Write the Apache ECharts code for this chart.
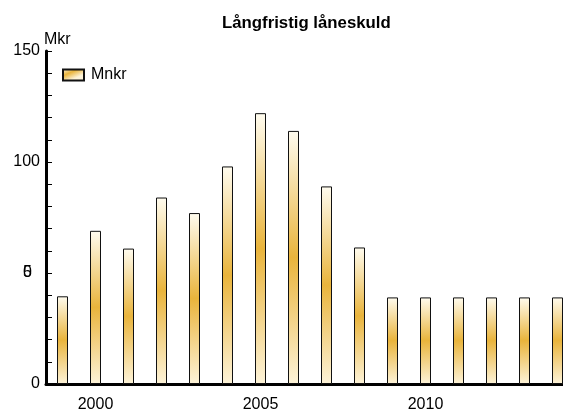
<!DOCTYPE html>
<html><head><meta charset="utf-8">
<script src="https://cdn.jsdelivr.net/npm/echarts@6/dist/echarts.min.js"></script>
<style>html,body{margin:0;padding:0;background:#fff}#c{width:563px;height:414px}</style>
</head><body><div id="c"></div>
<script>
var years = ['1999','2000','2001','2002','2003','2004','2005','2006','2007','2008','2009','2010','2011','2012','2013','2014'];
var mnkr = [39.5, 69, 61, 84, 77, 98, 122, 114, 89, 61.5, 39, 39, 39, 39, 39, 39];
var yTicks = [0, 50, 100, 150];

var chart = echarts.init(document.getElementById('c'));
var font = 'Liberation Sans, Arial, sans-serif';
var fill = new echarts.graphic.LinearGradient(0, 0, 0.25, 1, [
  {offset: 0, color: '#fffcf0'},
  {offset: 0.5, color: '#e9b43c'},
  {offset: 1, color: '#fdf3d8'}
]);
function hiddenAxis(txt){
  return {type:'value', min:0, max:150, interval:50, position:'left',
    axisLine:{show:false}, axisTick:{show:false}, splitLine:{show:false},
    axisLabel:{margin:14, color:'#000', fontSize:16, fontFamily:font, padding:[6,0,0,0],
      formatter:function(v){return v===50?txt:'';}}};
}
chart.setOption({
  animation:false,
  backgroundColor:'#fff',
  title:{text:'Långfristig låneskuld', left:217, top:10,
    textStyle:{fontSize:16.8, fontWeight:'bold', color:'#000', fontFamily:font}},
  legend:{left:57, top:62, itemWidth:21, itemHeight:11, icon:'rect', itemGap:6,
    textStyle:{fontSize:16, color:'#000', fontFamily:font, padding:[0,0,0,2]},
    data:['Mnkr']},
  grid:{left:46, width:528, top:51, bottom:30, containLabel:false, outerBoundsMode:'none'},
  xAxis:{type:'category', data:years,
    axisLine:{lineStyle:{color:'#000', width:3}},
    axisTick:{show:false},
    axisLabel:{color:'#000', fontSize:16, fontFamily:font, margin:13,
      interval:function(i){return (i-1)%5===0;}}},
  yAxis:[{type:'value', min:0, max:150, interval:10, name:'Mkr', nameLocation:'end', nameGap:11,
    nameMoveOverlap:false,
    nameTextStyle:{align:'left', verticalAlign:'middle', color:'#000', fontSize:16, fontFamily:font, padding:[0,0,0,-2]},
    axisLine:{show:true, lineStyle:{color:'#000', width:3}},
    axisTick:{show:true, inside:true, length:6, lineStyle:{color:'#000', width:1}},
    splitLine:{show:false},
    axisLabel:{color:'#000', fontSize:16, fontFamily:font, margin:6, padding:[6,0,0,0],
      formatter:function(v){return (yTicks.indexOf(v)>=0 && v!==50)?String(v):'';}}},
    hiddenAxis('5'), hiddenAxis('0')],
  series:[{name:'Mnkr', type:'bar', data:mnkr, barWidth:11, yAxisIndex:0,
    itemStyle:{color:fill, borderColor:'#111', borderWidth:1}}]
});
</script></body></html>
